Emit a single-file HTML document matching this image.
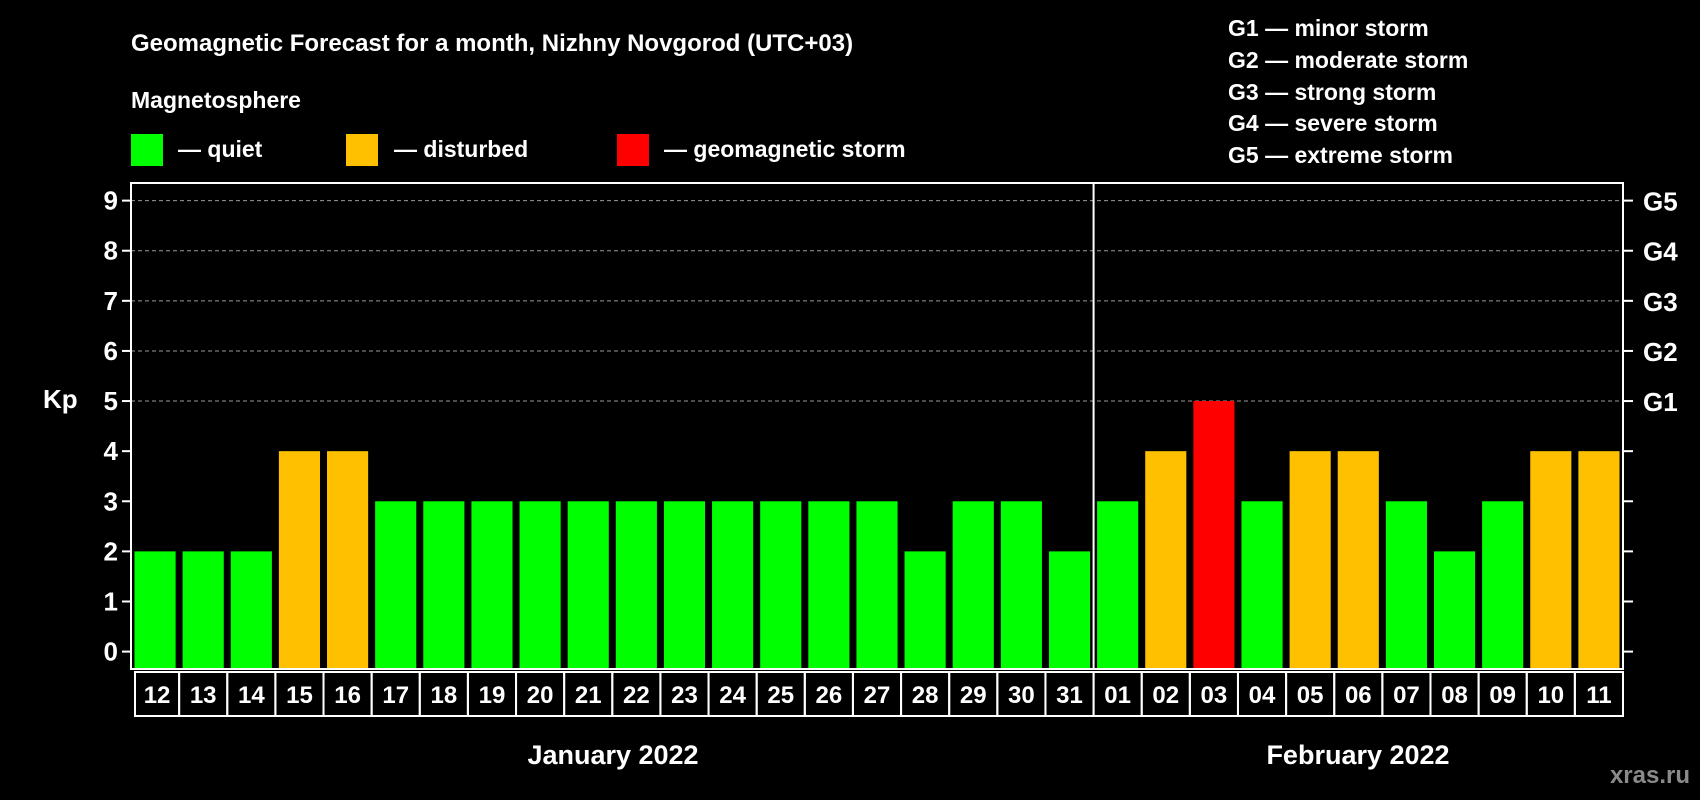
<!DOCTYPE html>
<html><head><meta charset="utf-8"><style>
html,body{margin:0;padding:0;background:#000;}
svg{display:block;font-family:"Liberation Sans",Arial,sans-serif;font-weight:bold;}
</style></head><body>
<svg id="chart" width="1700" height="800" viewBox="0 0 1700 800" xmlns="http://www.w3.org/2000/svg">
<rect width="1700" height="800" fill="#000"/>
<text x="131" y="51" fill="#fff" font-size="24">Geomagnetic Forecast for a month, Nizhny Novgorod (UTC+03)</text>
<text x="131" y="108" fill="#fff" font-size="23">Magnetosphere</text>
<g><rect x="131" y="134" width="32" height="32" fill="#00ff00"/><text x="178" y="157" fill="#fff" font-size="23">— quiet</text></g>
<g><rect x="346" y="134" width="32" height="32" fill="#ffc000"/><text x="394" y="157" fill="#fff" font-size="23">— disturbed</text></g>
<g><rect x="617" y="134" width="32" height="32" fill="#ff0000"/><text x="664" y="157" fill="#fff" font-size="23">— geomagnetic storm</text></g>
<g fill="#fff" font-size="23">
<text x="1228" y="36">G1 — minor storm</text>
<text x="1228" y="68">G2 — moderate storm</text>
<text x="1228" y="100">G3 — strong storm</text>
<text x="1228" y="131">G4 — severe storm</text>
<text x="1228" y="163">G5 — extreme storm</text>
</g>
<text x="43" y="408" fill="#fff" font-size="26">Kp</text>
<g id="grid"></g><g id="bars"></g><g id="axes"></g><g id="xlabels"></g>
<text x="613" y="764" text-anchor="middle" fill="#fff" font-size="27">January 2022</text>
<text x="1358" y="764" text-anchor="middle" fill="#fff" font-size="27">February 2022</text>
<text x="1690" y="783" text-anchor="end" fill="#8a8a8a" font-size="24">xras.ru</text>
</svg>
<script>
const days = ["12","13","14","15","16","17","18","19","20","21","22","23","24","25","26","27","28","29","30","31","01","02","03","04","05","06","07","08","09","10","11"];
const kpValues = [2,2,2,4,4,3,3,3,3,3,3,3,3,3,3,3,2,3,3,2,3,4,5,3,4,4,3,2,3,4,4];
const yTicks = [0,1,2,3,4,5,6,7,8,9];
const gLabels = ["G1","G2","G3","G4","G5"];
const NS="http://www.w3.org/2000/svg";
const L=131,R=1623,T=183,B=669;
const slot=(R-L)/days.length;
function xs(i){return L+i*slot;}
function ys(v){return 651.6-v*50.11;}
function color(v){return v>=5?"#ff0000":(v>=4?"#ffc000":"#00ff00");}
function mk(tag,attrs,parent){const e=document.createElementNS(NS,tag);for(const k in attrs)e.setAttribute(k,attrs[k]);parent.appendChild(e);return e;}
const grid=document.getElementById('grid'),bars=document.getElementById('bars'),axes=document.getElementById('axes'),xl=document.getElementById('xlabels');
yTicks.forEach(v=>{
  const y=ys(v);
  if(v>=5){const g=mk('line',{x1:L,x2:R,y1:y,y2:y,stroke:'#999','stroke-width':1,'stroke-dasharray':'4,3'},grid);
  
  }
  const t1=mk('line',{x1:L-9,x2:L,y1:y,y2:y,stroke:'#fff','stroke-width':2},axes);
  
  
  const t2=mk('line',{x1:R,x2:R+10,y1:y,y2:y,stroke:'#fff','stroke-width':2},axes);
  
  
  const lb=mk('text',{x:L-13,y:y+9,'text-anchor':'end',fill:'#fff','font-size':26},axes);
  lb.textContent=v;
  
  
  if(v>=5){const gl=mk('text',{x:R+20,y:y+10,fill:'#fff','font-size':26},axes);
  gl.textContent=gLabels[v-5];
  
  }
});
kpValues.forEach((v,i)=>{
  const x=xs(i)+3.5,w=slot-7,y=ys(v);
  const b=mk('rect',{x:x,y:y,width:w,height:B-y,fill:color(v)},bars);
  
  
  const bx=mk('rect',{x:xs(i)+(i==0?4:0),y:672,width:slot-(i==0?4:0),height:44,fill:'none',stroke:'#fff','stroke-width':2},xl);
  
  
  const t=mk('text',{x:xs(i)+slot/2+(i==0?2:0),y:703,'text-anchor':'middle',fill:'#fff','font-size':24},xl);
  t.textContent=days[i];
  
  
});
const fr=mk('rect',{x:L,y:T,width:R-L,height:B-T,fill:'none',stroke:'#fff','stroke-width':2},axes);


const mi=days.indexOf("01");
const dv=mk('line',{x1:xs(mi),x2:xs(mi),y1:T,y2:B,stroke:'#fff','stroke-width':2},axes);


</script>
</body></html>
